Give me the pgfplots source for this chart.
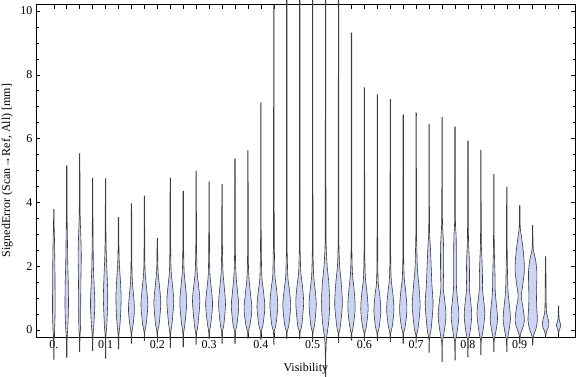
\documentclass[border=0pt]{standalone}
\usepackage{pgfplots}
\pgfplotsset{compat=1.18}
\usepackage{fontspec}
\setmainfont{Liberation Serif}
\definecolor{vfill}{RGB}{204,212,245}
\definecolor{vedge}{RGB}{60,60,60}
\newcommand\lblfont{\fontsize{12bp}{14bp}\selectfont}
% half-widths are given in pixels of the 576x377 picture; 1 px = 0.001932 x units, bodies drawn at 0.78 of that
\newcommand\violin[2]{%
  \gdef\vR{}\gdef\vL{}%
  \foreach \yy/\ww in {#2}{%
    \pgfmathsetmacro\xr{#1+\ww*0.00151}%
    \pgfmathsetmacro\xl{#1-\ww*0.00151}%
    \xdef\vR{\vR (\xr,\yy)}%
    \xdef\vL{(\xl,\yy) \vL}%
  }%
  \edef\vTmp{\noexpand\addplot[vio] coordinates {\vR\space\vL} -- cycle;}%
  \vTmp
}
\begin{document}
\begin{tikzpicture}
\begin{axis}[
  at={(0,0)}, anchor=south west,
  scale only axis, width=539.7bp, height=332.7bp,
  xmin=-0.0344, xmax=1.0081, ymin=-0.219, ymax=10.21,
  clip=false,
  axis line style={line width=0.6pt, black},
  tick style={line width=0.6pt, black},
  tick align=inside, tick pos=both,
  major tick length=4.5bp, minor tick length=2.7bp,
  xtick={0,0.025,0.05,0.075,0.1,0.125,0.15,0.175,0.2,0.225,0.25,0.275,0.3,0.325,0.35,0.375,0.4,0.425,0.45,0.475,0.5,0.525,0.55,0.575,0.6,0.625,0.65,0.675,0.7,0.725,0.75,0.775,0.8,0.825,0.85,0.875,0.9,0.925,0.95,0.975},
  xticklabels={0.,,,,0.1,,,,0.2,,,,0.3,,,,0.4,,,,0.5,,,,0.6,,,,0.7,,,,0.8,,,,0.9,,,},
  ytick={0,2,4,6,8,10}, minor y tick num=3,
  /pgf/number format/assume math mode=true,
  tick label style={font=\lblfont, text=black},
  xlabel={Visibility},
  ylabel={SignedError (Scan→Ref, All) [mm]},
  every axis x label/.style={at={(axis description cs:0.5,0)}, yshift=-32bp, anchor=center, font=\lblfont},
  every axis y label/.style={at={(axis description cs:0,0.5)}, xshift=-28.7bp, rotate=90, anchor=center, font=\lblfont},
  vio/.style={smooth, tension=0.5, fill=vfill, draw=vedge, line width=0.6pt, mark=none},
]
\violin{0.000}{-0.92/0.3, -0.3/0.4, 0.0/1.0, 0.5/1.6, 1.2/1.6, 2.0/1.4, 2.8/0.9, 3.3/0.4, 3.7/0.3, 3.78/0.3}
\violin{0.025}{-0.86/0.3, -0.3/0.4, 0.1/1.4, 0.7/2.2, 1.4/2.0, 2.1/1.3, 3.0/0.8, 3.8/0.4, 5.05/0.3, 5.12/0.3}
\violin{0.050}{-0.68/0.3, -0.2/0.4, 0.1/1.1, 0.8/1.3, 1.6/1.6, 2.3/2.0, 2.9/1.5, 3.5/0.7, 4.3/0.4, 5.45/0.3, 5.51/0.3}
\violin{0.075}{-0.65/0.3, -0.2/0.4, 0.1/1.4, 0.8/2.8, 1.4/1.9, 2.0/1.0, 2.8/0.6, 3.6/0.4, 4.68/0.3, 4.75/0.3}
\violin{0.100}{-0.89/0.3, -0.2/0.4, 0.1/1.4, 0.7/2.5, 1.1/2.8, 1.7/2.0, 2.3/1.0, 3.0/0.5, 4.63/0.3, 4.70/0.3}
\violin{0.125}{-0.59/0.3, -0.15/0.4, 0.1/1.6, 0.6/2.9, 1.1/3.3, 1.6/2.3, 2.1/1.0, 2.7/0.5, 3.46/0.3, 3.53/0.3}
\violin{0.150}{-0.42/0.3, -0.1/0.5, 0.15/2.0, 0.6/3.8, 1.0/3.0, 1.5/1.2, 2.0/0.6, 2.8/0.4, 3.88/0.3, 3.95/0.3}
\violin{0.175}{-0.33/0.3, -0.05/0.5, 0.2/2.4, 0.8/4.4, 1.3/2.8, 1.8/1.0, 2.4/0.5, 4.09/0.3, 4.16/0.3}
\violin{0.200}{-0.38/0.3, -0.05/0.5, 0.2/2.4, 0.85/4.4, 1.35/2.8, 1.8/1.0, 2.3/0.5, 2.82/0.3, 2.88/0.3}
\violin{0.225}{-0.55/0.3, -0.1/0.5, 0.2/2.2, 0.9/4.4, 1.4/2.8, 1.8/1.2, 2.4/0.6, 3.2/0.4, 4.66/0.3, 4.73/0.3}
\violin{0.250}{-0.53/0.3, -0.1/0.5, 0.2/2.2, 0.85/4.4, 1.4/2.8, 1.8/1.2, 2.4/0.6, 3.2/0.4, 4.27/0.3, 4.34/0.3}
\violin{0.275}{-0.45/0.3, -0.1/0.5, 0.15/2.2, 0.9/4.7, 1.4/3.0, 1.8/1.3, 2.4/0.6, 3.2/0.4, 4.87/0.3, 4.94/0.3}
\violin{0.300}{-0.28/0.3, -0.05/0.5, 0.2/2.2, 0.8/4.4, 1.3/2.8, 1.7/1.2, 2.3/0.6, 3.2/0.4, 4.55/0.3, 4.62/0.3}
\violin{0.325}{-0.42/0.3, -0.05/0.5, 0.15/2.2, 0.8/4.4, 1.35/2.8, 1.8/1.2, 2.4/0.6, 3.2/0.4, 4.48/0.3, 4.55/0.3}
\violin{0.350}{-0.42/0.3, -0.05/0.5, 0.15/2.4, 0.75/4.7, 1.25/3.0, 1.7/1.4, 2.3/0.6, 3.2/0.4, 5.23/0.3, 5.30/0.3}
\violin{0.375}{-0.26/0.3, -0.05/0.5, 0.15/2.6, 0.65/5.0, 1.15/3.2, 1.6/1.4, 2.1/0.6, 3.2/0.4, 5.48/0.3, 5.55/0.3}
\violin{0.400}{-0.30/0.3, -0.05/0.5, 0.15/2.6, 0.7/5.0, 1.2/3.4, 1.6/1.4, 2.2/0.7, 3.2/0.4, 6.89/0.3, 6.96/0.3}
\violin{0.425}{-0.45/0.3, -0.05/0.5, 0.15/2.6, 0.75/5.0, 1.3/3.4, 1.7/1.4, 2.4/0.8, 3.2/0.5, 9.77/0.3, 9.84/0.3}
\violin{0.450}{-0.26/0.3, -0.05/0.5, 0.15/2.6, 0.75/5.0, 1.25/3.4, 1.65/1.4, 2.3/0.7, 3.2/0.4, 9.95/0.3, 10.02/0.3}
\violin{0.475}{-0.28/0.3, -0.05/0.5, 0.15/2.6, 0.85/5.0, 1.4/3.4, 1.8/1.4, 2.4/0.7, 3.2/0.4, 10.14/0.3, 10.21/0.3}
\violin{0.500}{-0.37/0.3, -0.05/0.5, 0.15/2.4, 0.8/4.6, 1.3/3.0, 1.7/1.3, 2.3/0.6, 3.2/0.4, 10.14/0.3, 10.21/0.3}
\violin{0.525}{-1.46/0.3, -0.6/0.5, -0.2/1.5, 0.3/4.2, 0.9/5.2, 1.5/4.0, 2.0/2.0, 2.6/0.8, 3.4/0.5, 10.33/0.3, 10.4/0.3}
\violin{0.550}{-0.40/0.3, -0.1/0.5, 0.1/2.2, 0.8/4.9, 1.5/3.4, 2.0/1.4, 2.6/0.6, 3.4/0.4, 9.98/0.3, 10.05/0.3}
\violin{0.575}{-0.32/0.3, -0.1/0.5, 0.1/2.2, 0.7/4.7, 1.3/3.2, 1.75/1.3, 2.4/0.6, 3.4/0.4, 8.96/0.3, 9.03/0.3}
\violin{0.600}{-0.34/0.3, -0.1/0.5, 0.1/2.4, 0.65/4.7, 1.2/3.2, 1.6/1.3, 2.2/0.6, 3.2/0.4, 7.33/0.3, 7.40/0.3}
\violin{0.625}{-0.34/0.3, -0.1/0.5, 0.1/2.4, 0.6/4.4, 1.1/3.0, 1.45/1.2, 2.0/0.6, 3.2/0.4, 7.12/0.3, 7.19/0.3}
\violin{0.650}{-0.37/0.3, -0.1/0.5, 0.1/2.4, 0.62/4.7, 1.15/3.2, 1.55/1.3, 2.1/0.6, 3.2/0.4, 6.98/0.3, 7.05/0.3}
\violin{0.675}{-0.42/0.3, -0.1/0.5, 0.1/2.4, 0.62/4.7, 1.2/3.2, 1.6/1.3, 2.2/0.6, 3.2/0.4, 6.53/0.3, 6.60/0.3}
\violin{0.700}{-0.40/0.3, -0.15/0.5, 0.05/2.4, 0.75/5.0, 1.4/3.4, 1.9/1.6, 2.6/0.8, 3.4/0.4, 6.60/0.3, 6.67/0.3}
\violin{0.725}{-0.70/0.3, -0.25/0.5, 0.0/2.4, 0.8/5.0, 1.4/3.6, 2.0/2.6, 2.6/1.6, 3.0/0.6, 3.8/0.4, 6.30/0.3, 6.37/0.3}
\violin{0.750}{-0.99/0.3, -0.35/0.5, -0.1/2.4, 0.45/5.0, 1.0/3.0, 1.3/1.6, 2.0/2.0, 2.7/1.8, 3.3/0.6, 4.0/0.4, 6.51/0.3, 6.58/0.3}
\violin{0.775}{-0.94/0.3, -0.35/0.5, -0.1/2.4, 0.45/5.0, 1.0/3.0, 1.4/1.8, 2.2/1.8, 3.0/1.4, 3.5/0.5, 6.20/0.3, 6.27/0.3}
\violin{0.800}{-0.84/0.3, -0.3/0.5, -0.1/2.4, 0.45/4.8, 1.0/3.0, 1.3/1.8, 1.7/2.0, 2.3/1.6, 3.0/0.6, 5.76/0.3, 5.83/0.3}
\violin{0.825}{-0.78/0.3, -0.3/0.5, -0.1/2.2, 0.5/5.0, 1.0/3.2, 1.3/2.0, 1.7/2.0, 2.3/1.2, 2.9/0.5, 5.47/0.3, 5.54/0.3}
\violin{0.850}{-0.68/0.3, -0.3/0.5, -0.1/2.2, 0.35/4.7, 0.85/3.0, 1.2/1.8, 1.7/1.5, 2.3/0.8, 3.0/0.4, 4.76/0.3, 4.83/0.3}
\violin{0.875}{-0.68/0.3, -0.3/0.5, -0.1/2.2, 0.35/4.7, 0.85/3.0, 1.2/1.6, 1.7/1.0, 2.3/0.6, 3.0/0.4, 4.39/0.3, 4.46/0.3}
\violin{0.900}{-0.42/0.3, -0.15/0.8, 0.05/3.6, 0.3/6.0, 0.7/4.2, 1.05/2.0, 1.4/3.8, 1.9/6.0, 2.4/4.8, 2.9/2.4, 3.2/0.7, 3.83/0.3, 3.9/0.3}
\violin{0.925}{-0.47/0.3, -0.2/0.8, 0.0/3.7, 0.3/6.0, 0.8/5.0, 1.3/5.0, 1.8/5.4, 2.2/3.7, 2.5/1.0, 2.8/0.4, 3.22/0.3, 3.28/0.3}
\violin{0.950}{-0.18/0.3, -0.05/1.2, 0.15/4.2, 0.35/3.2, 0.55/1.2, 0.9/0.7, 1.5/0.5, 2.24/0.3, 2.30/0.3}
\violin{0.975}{-0.1/0.3, 0.0/1.0, 0.15/2.8, 0.3/1.0, 0.45/0.5, 0.7/0.3, 0.75/0.3}
\end{axis}
\pgfresetboundingbox
\path[use as bounding box] (-36bp,-40bp) rectangle (540bp,337bp);
\end{tikzpicture}
\end{document}
